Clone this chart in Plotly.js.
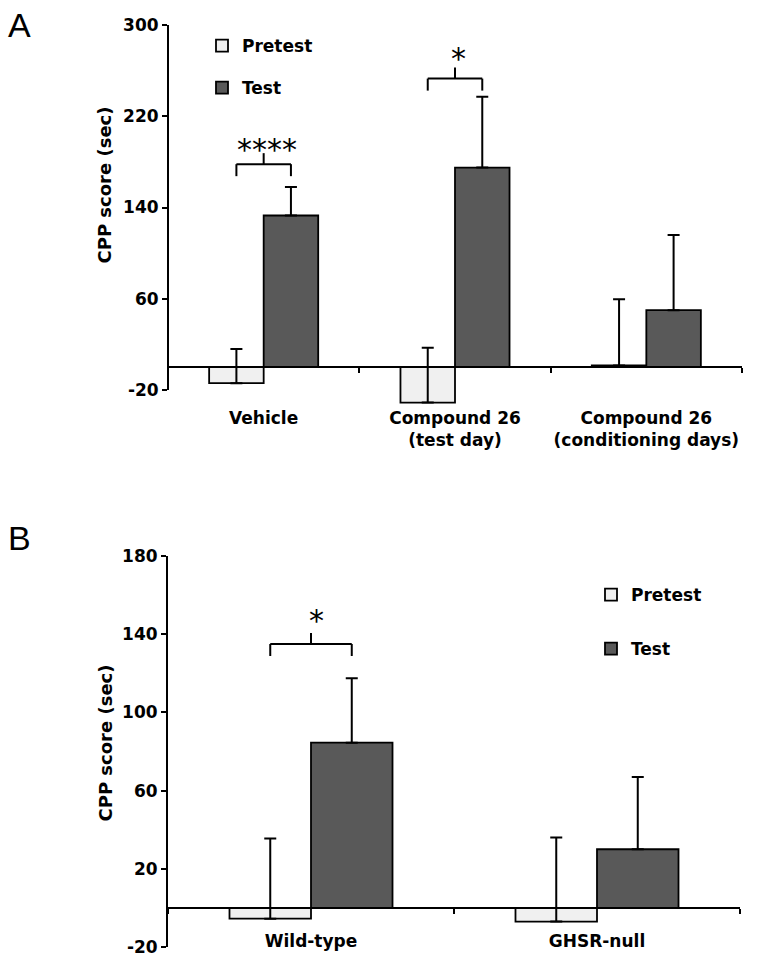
<!DOCTYPE html>
<html><head><meta charset="utf-8">
<script src="https://cdn.plot.ly/plotly-3.0.1.min.js"></script>
<style>html,body{margin:0;padding:0;background:#fff}#chart{width:761px;height:966px}</style>
</head><body><div id="chart"></div>
<script>
// ---- data ----
const categoriesA = ['Vehicle', 'Compound 26<br>(test day)', 'Compound 26<br>(conditioning days)'];
const pretestA = [-14, -31, 1.5];
const pretestErrA = [30, 48, 58];
const testA = [133, 175, 50];
const testErrA = [25, 62, 66];
const yTicksA = [-20, 60, 140, 220, 300];
const yAxisSpanA = [-20, 300];

const categoriesB = ['Wild-type', 'GHSR-null'];
const pretestB = [-5.5, -7];
const pretestErrB = [41, 43];
const testB = [84.5, 30];
const testErrB = [33, 37];
const yTicksB = [-20, 20, 60, 100, 140, 180];
const yAxisSpanB = [-20, 180];

const seriesNames = ['Pretest', 'Test'];
const yTitle = 'CPP score (sec)';
const sigGroupsA = [0, 1];
const sigLabelsA = ['****', '*'];
const sigLevelsA = [178, 253];
const sigGroupsB = [0];
const sigLabelsB = ['*'];
const sigLevelsB = [135];

// ---- layout helpers ----
const W = 761, H = 966;
const M = {l: 168, r: 19, t: 25, b: 15};
const pw = W - M.l - M.r, ph = H - M.t - M.b;
const fx = px => (px - M.l) / pw;
const fy = py => (H - M.b - py) / ph;

// panel A: axis line spans -20..300 at px 390..25; view extends below so bars are not clipped
const pxA = [390, 25];
const upA = (yAxisSpanA[1] - yAxisSpanA[0]) / (pxA[0] - pxA[1]);
const extraBelowA = 14; // data units shown below axis end
const viewA = [yAxisSpanA[0] - extraBelowA, yAxisSpanA[1]];
const domYA = [fy(pxA[0] + extraBelowA / upA), fy(pxA[1])];
const domXA = [fx(168), fx(742)];
const domXB = [fx(168), fx(740)], domYB = [fy(947), fy(556)];
const zeroPos = (dom, r) => dom[0] + (0 - r[0]) / (r[1] - r[0]) * (dom[1] - dom[0]);

const BARGAP = 0.43;
const off = (1 - BARGAP) / 4;
const lightCol = '#f0f0f0', darkCol = '#595959';
const FONT = 'DejaVu Sans, Verdana, sans-serif';

function barTrace(x, y, err, name, color, xa, ya, leg) {
  return {
    type: 'bar', x: x, y: y, name: name, xaxis: xa, yaxis: ya,
    legend: leg, showlegend: true, legendgroup: leg + name,
    marker: {color: color, line: {color: '#000', width: 1.8}},
    error_y: {type: 'data', symmetric: false, array: err, arrayminus: err.map(() => 0),
              color: '#000', thickness: 2, width: 6},
    hoverinfo: 'skip'
  };
}

const traces = [
  barTrace(categoriesA, pretestA, pretestErrA, seriesNames[0], lightCol, 'x', 'y', 'legend'),
  barTrace(categoriesA, testA, testErrA, seriesNames[1], darkCol, 'x', 'y', 'legend'),
  barTrace(categoriesB, pretestB, pretestErrB, seriesNames[0], lightCol, 'x2', 'y2', 'legend2'),
  barTrace(categoriesB, testB, testErrB, seriesNames[1], darkCol, 'x2', 'y2', 'legend2')
];

const shapes = [], annotations = [];
// y axis line of panel A (only over -20..300)
shapes.push({type: 'line', xref: 'paper', yref: 'y', x0: domXA[0], x1: domXA[0],
  y0: yAxisSpanA[0], y1: yAxisSpanA[1], line: {color: '#000', width: 2}, xshift: -1});

function bracket(groups, labels, levels, xref, yref, range, dom, starShifts) {
  const upp = (range[1] - range[0]) / ((dom[1] - dom[0]) * ph); // units per px
  groups.forEach((g, i) => {
    const y = levels[i];
    const x0 = g - off, x1 = g + off, xm = g;
    const leg = 12 * upp, tick = 11 * upp;
    const ln = {color: '#000', width: 2};
    shapes.push({type: 'line', xref, yref, x0: x0, x1: x0, y0: y - leg, y1: y, line: ln});
    shapes.push({type: 'line', xref, yref, x0: x0, x1: x1, y0: y, y1: y, line: ln});
    shapes.push({type: 'line', xref, yref, x0: x1, x1: x1, y0: y - leg, y1: y, line: ln});
    shapes.push({type: 'line', xref, yref, x0: xm, x1: xm, y0: y, y1: y + tick, line: ln});
    annotations.push({xref, yref, x: xm + 0.02, y: y + tick, text: labels[i], showarrow: false,
      yanchor: 'bottom', yshift: starShifts[i], font: {family: FONT, size: 30, color: '#000'}});
  });
}
bracket(sigGroupsA, sigLabelsA, sigLevelsA, 'x', 'y', viewA, domYA, [-16, -10]);
bracket(sigGroupsB, sigLabelsB, sigLevelsB, 'x2', 'y2', yAxisSpanB, domYB, [-7]);

const panelFont = {family: 'Liberation Sans, Arial, sans-serif', size: 34, color: '#000'};
annotations.push({xref: 'paper', yref: 'paper', x: fx(6), y: fy(25), xanchor: 'left', yanchor: 'middle',
  text: 'A', showarrow: false, font: panelFont});
annotations.push({xref: 'paper', yref: 'paper', x: fx(6), y: fy(538), xanchor: 'left', yanchor: 'middle',
  text: 'B', showarrow: false, font: panelFont});
const titleFont = {family: FONT, size: 18, color: '#000', weight: 'bold'};
annotations.push({xref: 'paper', yref: 'paper', x: fx(104), y: fy(185.5), xanchor: 'center', yanchor: 'middle',
  text: yTitle, textangle: -90, showarrow: false, font: titleFont});
annotations.push({xref: 'paper', yref: 'paper', x: fx(105), y: fy(743.5), xanchor: 'center', yanchor: 'middle',
  text: yTitle, textangle: -90, showarrow: false, font: titleFont});

const tickFont = {family: FONT, size: 17, color: '#000', weight: 'bold'};
const catFont = {family: FONT, size: 17, color: '#000', weight: 'bold'};

function xAxis(dom, yAnchorPos, standoff) {
  return {domain: dom, type: 'category', anchor: 'free', position: yAnchorPos, tickangle: 0,
    showline: true, linecolor: '#000', linewidth: 2, ticks: 'outside', tickson: 'boundaries',
    ticklen: 5, tickwidth: 2, tickcolor: '#000', showgrid: false, zeroline: false,
    tickfont: catFont, ticklabelstandoff: standoff, fixedrange: true};
}
function yAxis(dom, range, ticks, anchor, line) {
  return {domain: dom, range: range, tickvals: ticks, ticktext: ticks.map(String), anchor: anchor,
    showline: line, linecolor: '#000', linewidth: 2, ticks: 'outside', ticklen: 5, tickwidth: 2,
    tickcolor: '#000', showgrid: false, zeroline: false, tickfont: tickFont, fixedrange: true};
}

const legendFont = {family: FONT, size: 17, color: '#000', weight: 'bold'};
const layout = {
  width: W, height: H, margin: M, paper_bgcolor: '#fff', plot_bgcolor: '#fff',
  barmode: 'group', bargap: BARGAP, bargroupgap: 0,
  xaxis: xAxis(domXA, zeroPos(domYA, viewA), 35),
  yaxis: yAxis(domYA, viewA, yTicksA, 'x', false),
  xaxis2: xAxis(domXB, zeroPos(domYB, yAxisSpanB), 18),
  yaxis2: yAxis(domYB, yAxisSpanB, yTicksB, 'x2', true),
  legend: {x: fx(202), y: fy(28), xanchor: 'left', yanchor: 'top', font: legendFont,
    traceorder: 'grouped', tracegroupgap: 17, bgcolor: 'rgba(0,0,0,0)', borderwidth: 0},
  legend2: {x: fx(591), y: fy(577), xanchor: 'left', yanchor: 'top', font: legendFont,
    traceorder: 'grouped', tracegroupgap: 29, bgcolor: 'rgba(0,0,0,0)', borderwidth: 0},
  shapes: shapes, annotations: annotations, showlegend: true
};

Plotly.newPlot('chart', traces, layout, {displayModeBar: false, staticPlot: true});
</script></body></html>
